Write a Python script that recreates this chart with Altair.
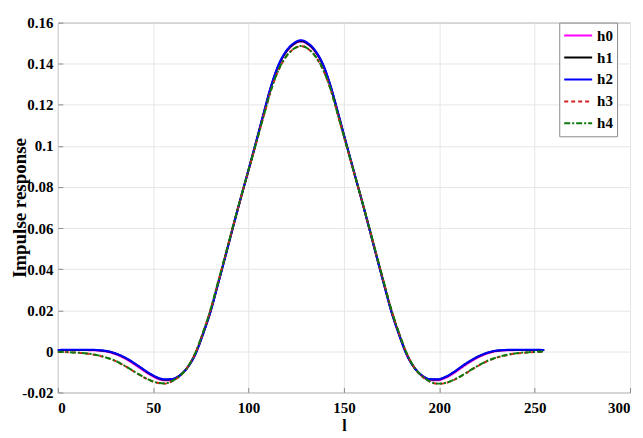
import altair as alt
import pandas as pd

l_vals = [0, 8, 16, 24, 30, 36, 42, 48, 52, 56, 60, 64, 68, 72, 76, 80, 84, 88, 92, 96,
          100, 104, 108, 112, 116, 120, 124, 127,
          128, 131, 135, 139, 143, 147, 151, 155, 159, 163, 167, 171, 175, 179, 183, 187,
          191, 195, 199, 203, 207, 213, 219, 225, 231, 239, 247, 255]

h0 = [0.0006, 0.0007, 0.0006, 0.0001, -0.0013, -0.0039, -0.0075, -0.0112, -0.0132, -0.0141,
      -0.0137, -0.0117, -0.0077, -0.0013, 0.0084, 0.0194, 0.0330, 0.0469, 0.0610, 0.0748,
      0.0882, 0.1018, 0.1158, 0.1293, 0.1396, 0.1460, 0.1496, 0.1508,
      0.1508, 0.1495, 0.1458, 0.1393, 0.1288, 0.1154, 0.1016, 0.0881, 0.0746, 0.0608,
      0.0467, 0.0328, 0.0192, 0.0082, -0.0015, -0.0080, -0.0120, -0.0139, -0.0141, -0.0130,
      -0.0110, -0.0071, -0.0036, -0.0011, 0.0002, 0.0006, 0.0007, 0.0007]

h1 = [0.0006, 0.0007, 0.0007, 0.0003, -0.0010, -0.0035, -0.0070, -0.0108, -0.0128, -0.0138,
      -0.0135, -0.0117, -0.0078, -0.0015, 0.0082, 0.0193, 0.0329, 0.0468, 0.0610, 0.0748,
      0.0883, 0.1020, 0.1160, 0.1295, 0.1398, 0.1462, 0.1498, 0.1510,
      0.1510, 0.1497, 0.1460, 0.1395, 0.1290, 0.1156, 0.1018, 0.0882, 0.0747, 0.0608,
      0.0466, 0.0327, 0.0191, 0.0080, -0.0017, -0.0080, -0.0118, -0.0136, -0.0137, -0.0126,
      -0.0105, -0.0066, -0.0032, -0.0008, 0.0004, 0.0007, 0.0007, 0.0006]

h2 = [0.0007, 0.0008, 0.0008, 0.0004, -0.0009, -0.0034, -0.0069, -0.0106, -0.0126, -0.0136,
      -0.0134, -0.0117, -0.0079, -0.0017, 0.0080, 0.0191, 0.0328, 0.0468, 0.0611, 0.0750,
      0.0886, 0.1023, 0.1163, 0.1298, 0.1401, 0.1466, 0.1502, 0.1514,
      0.1514, 0.1501, 0.1464, 0.1398, 0.1293, 0.1159, 0.1021, 0.0884, 0.0748, 0.0609,
      0.0466, 0.0326, 0.0189, 0.0078, -0.0019, -0.0081, -0.0118, -0.0135, -0.0136, -0.0125,
      -0.0104, -0.0065, -0.0031, -0.0007, 0.0005, 0.0008, 0.0008, 0.0007]

h3 = [-0.0003, -0.0005, -0.0012, -0.0027, -0.0046, -0.0076, -0.0110, -0.0140, -0.0153, -0.0157,
      -0.0145, -0.0120, -0.0078, -0.0010, 0.0088, 0.0200, 0.0336, 0.0474, 0.0614, 0.0750,
      0.0882, 0.1014, 0.1148, 0.1278, 0.1375, 0.1438, 0.1474, 0.1485,
      0.1485, 0.1473, 0.1436, 0.1372, 0.1275, 0.1145, 0.1012, 0.0880, 0.0748, 0.0612,
      0.0472, 0.0334, 0.0198, 0.0086, -0.0012, -0.0080, -0.0122, -0.0147, -0.0158, -0.0155,
      -0.0142, -0.0112, -0.0078, -0.0048, -0.0028, -0.0012, -0.0005, -0.0002]

h4 = [-0.0002, -0.0005, -0.0011, -0.0026, -0.0045, -0.0075, -0.0109, -0.0139, -0.0152, -0.0156,
      -0.0144, -0.0119, -0.0077, -0.0009, 0.0089, 0.0201, 0.0337, 0.0475, 0.0615, 0.0751,
      0.0883, 0.1015, 0.1149, 0.1279, 0.1376, 0.1439, 0.1475, 0.1486,
      0.1486, 0.1474, 0.1437, 0.1373, 0.1276, 0.1146, 0.1013, 0.0881, 0.0749, 0.0613,
      0.0473, 0.0335, 0.0199, 0.0087, -0.0011, -0.0079, -0.0121, -0.0146, -0.0157, -0.0154,
      -0.0141, -0.0111, -0.0077, -0.0047, -0.0027, -0.0011, -0.0004, -0.0001]

series_names = ["h0", "h1", "h2", "h3", "h4"]
series_values = [h0, h1, h2, h3, h4]
colors = ["#ff00ff", "#000000", "#0000ff", "#d42020", "#0b7a0b"]
dashes = [[1, 0], [1, 0], [1, 0], [4, 3], [6, 2, 2, 2]]

x_ticks = [0, 50, 100, 150, 200, 250, 300]
y_ticks = [-0.02, 0, 0.02, 0.04, 0.06, 0.08, 0.1, 0.12, 0.14, 0.16]

rows = []
for name, vals in zip(series_names, series_values):
    for lv, v in zip(l_vals, vals):
        rows.append({"l": lv, "value": v, "series": name})
df = pd.DataFrame(rows)

FONT = "Liberation Serif"
AX = "#8c8c8c"

legend = alt.Legend(title=None, labelExpr="datum.label + '    '")

chart = alt.Chart(df).mark_line(strokeWidth=2, interpolate="monotone").encode(
    x=alt.X("l:Q", scale=alt.Scale(domain=[0, 300], nice=False),
            axis=alt.Axis(values=x_ticks, title="l", offset=-5, tickSize=5, domain=False,
                          labelPadding=8, titleY=38, titleBaseline="middle",
                          titleFontSize=16)),
    y=alt.Y("value:Q", scale=alt.Scale(domain=[-0.02, 0.16], nice=False, zero=False),
            axis=alt.Axis(values=y_ticks, title="Impulse response", offset=-5, tickSize=5,
                          domain=False, labelPadding=5,
                          labelExpr="'' + round(datum.value*100)/100",
                          titleX=-43, titleY=185.5, titleAngle=270, titleAlign="center",
                          titleBaseline="middle", titleFontSize=19)),
    color=alt.Color("series:N", scale=alt.Scale(domain=series_names, range=colors), legend=legend),
    strokeDash=alt.StrokeDash("series:N", scale=alt.Scale(domain=series_names, range=dashes),
                              legend=legend),
).properties(
    width=574, height=371, autosize="none",
    padding={"left": 50, "top": 14, "right": 5, "bottom": 45},
).configure_view(
    stroke=AX, strokeWidth=1
).configure_axis(
    labelFont=FONT, labelFontWeight="bold", labelFontSize=15, labelColor="black",
    titleFont=FONT, titleFontWeight="bold", titleColor="black",
    tickColor=AX, gridColor="#e6e6e6", grid=True,
).configure_legend(
    orient="none", legendX=503, legendY=0, padding=4, strokeColor=AX, fillColor="white",
    symbolType="stroke", symbolSize=784, symbolStrokeWidth=2,
    labelFont=FONT, labelFontWeight="bold", labelFontSize=15, labelColor="black",
    rowPadding=4, clipHeight=18, labelOffset=4,
)

chart.save("out.html", embed_options={"renderer": "svg", "actions": False})
